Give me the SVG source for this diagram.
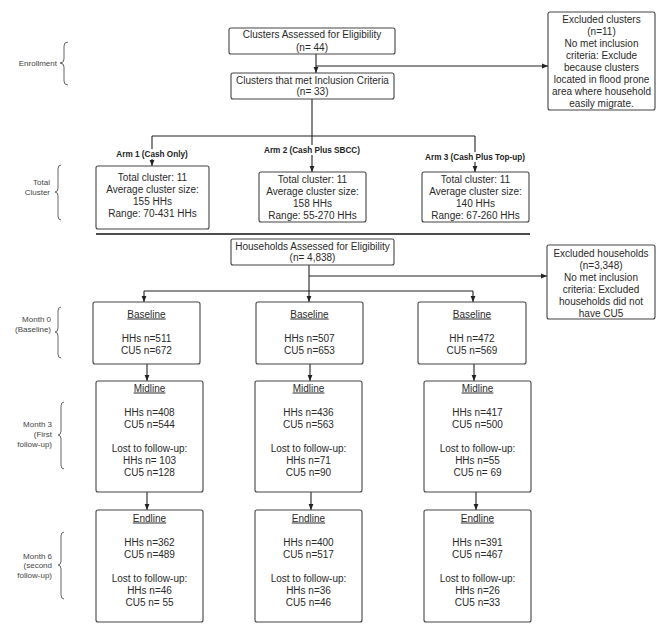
<svg xmlns="http://www.w3.org/2000/svg" width="666" height="629" viewBox="0 0 666 629">
<defs>
<marker id="ah" markerUnits="userSpaceOnUse" markerWidth="6" markerHeight="6" viewBox="0 0 6 6" refX="6" refY="3" orient="auto">
<path d="M0,0.6 L6,3 L0,5.4 Z" fill="#222"/>
</marker>
<style>
.box{fill:#fff;stroke:#444;stroke-width:1.1}
.t{font-family:"Liberation Sans",Arial,sans-serif;font-size:10px;fill:#2a2a2a;text-anchor:middle}
.u{text-decoration:underline}
.arm{font-family:"Liberation Sans",Arial,sans-serif;font-size:8.2px;font-weight:bold;fill:#222;text-anchor:middle}
.lab{font-family:"Liberation Sans",Arial,sans-serif;font-size:8px;fill:#444;text-anchor:end}
.ln{fill:none;stroke:#222;stroke-width:1.1}
.ar{fill:none;stroke:#222;stroke-width:1.1;marker-end:url(#ah)}
.br{fill:none;stroke:#555;stroke-width:0.9}
.sep{stroke:#111;stroke-width:1.6}
</style>
</defs>
<rect width="666" height="629" fill="#fff"/>

<g id="connectors">
<path class="ar" d="M316,54 V73"/>
<path class="ar" d="M316,66 H548"/>
<path class="ln" d="M312,99 V136"/>
<path class="ln" d="M152,136 H475"/>
<path class="ar" d="M152,136 V166"/>
<path class="ar" d="M312,136 V172"/>
<path class="ar" d="M475,136 V172"/>
<rect x="108" y="149" width="89" height="10" fill="#fff"/>
<rect x="259" y="145" width="106" height="10" fill="#fff"/>
<rect x="418" y="152" width="114" height="10" fill="#fff"/>
<text class="arm" x="152" y="157">Arm 1 (Cash Only)</text>
<text class="arm" x="312" y="153">Arm 2 (Cash Plus SBCC)</text>
<text class="arm" x="475" y="160">Arm 3 (Cash Plus Top-up)</text>
<path class="ar" d="M309,265 V302"/>
<path class="ar" d="M309,276 H547"/>
<path class="ln" d="M144,291 H473"/>
<path class="ar" d="M144,291 V302"/>
<path class="ar" d="M473,291 V302"/>
<path class="ar" d="M147,364 V381"/>
<path class="ar" d="M310,364 V381"/>
<path class="ar" d="M474,364 V381"/>
<path class="ar" d="M147,492 V510"/>
<path class="ar" d="M311,492 V510"/>
<path class="ar" d="M476,492 V510"/>
</g>

<line class="sep" x1="96" y1="234" x2="530" y2="234"/>

<g id="labels">
<text class="lab" x="57" y="66">Enrollment</text>
<path class="br" d="M68,42 Q64,42 64,46 V59 Q64,63 60,63 Q64,63 64,67 V81 Q64,85 68,85"/>
<text class="lab" x="50" y="185">Total</text>
<text class="lab" x="50" y="195">Cluster</text>
<path class="br" d="M61,165 Q58,165 58,169 V188 Q58,192 55,192 Q58,192 58,196 V216 Q58,220 61,220"/>
<text class="lab" x="51" y="322">Month 0</text>
<text class="lab" x="51" y="332">(Baseline)</text>
<path class="br" d="M61,307 Q58,307 58,311 V328 Q58,332 55,332 Q58,332 58,336 V354 Q58,358 61,358"/>
<text class="lab" x="52" y="427">Month 3</text>
<text class="lab" x="52" y="437">(First</text>
<text class="lab" x="52" y="447">follow-up)</text>
<path class="br" d="M64,402 Q61,402 61,406 V431 Q61,435 58,435 Q61,435 61,439 V465 Q61,469 64,469"/>
<text class="lab" x="52" y="559">Month 6</text>
<text class="lab" x="52" y="568">(second</text>
<text class="lab" x="52" y="578">follow-up)</text>
<path class="br" d="M64,532 Q61,532 61,536 V561 Q61,565 58,565 Q61,565 61,569 V595 Q61,599 64,599"/>
</g>

<g id="clusters-assessed">
<rect class="box" x="229" y="28" width="166" height="26" rx="2"/>
<text class="t" x="312" y="38">Clusters Assessed for Eligibility</text>
<text class="t" x="312" y="50.5">(n= 44)</text>
</g>
<g id="clusters-met">
<rect class="box" x="231" y="73" width="163" height="26" rx="2"/>
<text class="t" x="312.5" y="83.5">Clusters that met Inclusion Criteria</text>
<text class="t" x="312.5" y="95">(n= 33)</text>
</g>
<g id="excluded-clusters">
<rect class="box" x="548" y="12" width="107" height="98" rx="2"/>
<text class="t" x="601.5" y="22.8">Excluded clusters</text>
<text class="t" x="601.5" y="34.8">(n=11)</text>
<text class="t" x="601.5" y="46.8">No met inclusion</text>
<text class="t" x="601.5" y="58.8">criteria: Exclude</text>
<text class="t" x="601.5" y="70.8">because clusters</text>
<text class="t" x="601.5" y="82.8">located in flood prone</text>
<text class="t" x="601.5" y="94.8">area where household</text>
<text class="t" x="601.5" y="106.8">easily migrate.</text>
</g>

<g id="arm1">
<rect class="box" x="96" y="166" width="113" height="63" rx="2"/>
<text class="t" x="152.5" y="181">Total cluster: 11</text>
<text class="t" x="152.5" y="193">Average cluster size:</text>
<text class="t" x="152.5" y="205">155 HHs</text>
<text class="t" x="152.5" y="217">Range: 70-431 HHs</text>
</g>
<g id="arm2">
<rect class="box" x="259" y="172" width="107" height="50" rx="2"/>
<text class="t" x="312.5" y="182.5">Total cluster: 11</text>
<text class="t" x="312.5" y="194.5">Average cluster size:</text>
<text class="t" x="312.5" y="206.5">158 HHs</text>
<text class="t" x="312.5" y="218.5">Range: 55-270 HHs</text>
</g>
<g id="arm3">
<rect class="box" x="422" y="172" width="107" height="50" rx="2"/>
<text class="t" x="475.5" y="182.5">Total cluster: 11</text>
<text class="t" x="475.5" y="194.5">Average cluster size:</text>
<text class="t" x="475.5" y="206.5">140 HHs</text>
<text class="t" x="475.5" y="218.5">Range: 67-260 HHs</text>
</g>

<g id="households-assessed">
<rect class="box" x="231" y="239" width="163" height="26" rx="2"/>
<text class="t" x="312.5" y="249.5">Households Assessed for Eligibility</text>
<text class="t" x="312.5" y="261">(n= 4,838)</text>
</g>
<g id="excluded-households">
<rect class="box" x="547" y="245" width="108" height="74" rx="2"/>
<text class="t" x="601" y="256.5">Excluded households</text>
<text class="t" x="601" y="268.5">(n=3,348)</text>
<text class="t" x="601" y="280.5">No met inclusion</text>
<text class="t" x="601" y="292.5">criteria: Excluded</text>
<text class="t" x="601" y="304.5">households did not</text>
<text class="t" x="601" y="316.5">have CU5</text>
</g>

<g id="baseline1">
<rect class="box" x="93" y="302" width="107" height="62" rx="2"/>
<text class="t u" x="146.5" y="317.5">Baseline</text>
<text class="t" x="146.5" y="341.5">HHs n=511</text>
<text class="t" x="146.5" y="353.5">CU5 n=672</text>
</g>
<g id="baseline2">
<rect class="box" x="256" y="302" width="107" height="62" rx="2"/>
<text class="t u" x="309.5" y="317.5">Baseline</text>
<text class="t" x="309.5" y="341.5">HHs n=507</text>
<text class="t" x="309.5" y="353.5">CU5 n=653</text>
</g>
<g id="baseline3">
<rect class="box" x="418" y="302" width="108" height="62" rx="2"/>
<text class="t u" x="472" y="317.5">Baseline</text>
<text class="t" x="472" y="341.5">HH n=472</text>
<text class="t" x="472" y="353.5">CU5 n=569</text>
</g>

<g id="midline1">
<rect class="box" x="96" y="381" width="107" height="111" rx="2"/>
<text class="t u" x="149.5" y="391.5">Midline</text>
<text class="t" x="149.5" y="415.5">HHs n=408</text>
<text class="t" x="149.5" y="427.5">CU5 n=544</text>
<text class="t" x="149.5" y="451.5">Lost to follow-up:</text>
<text class="t" x="149.5" y="463.5">HHs n= 103</text>
<text class="t" x="149.5" y="475.5">CU5 n=128</text>
</g>
<g id="midline2">
<rect class="box" x="255" y="381" width="107" height="111" rx="2"/>
<text class="t u" x="308.5" y="391.5">Midline</text>
<text class="t" x="308.5" y="415.5">HHs n=436</text>
<text class="t" x="308.5" y="427.5">CU5 n=563</text>
<text class="t" x="308.5" y="451.5">Lost to follow-up:</text>
<text class="t" x="308.5" y="463.5">HHs n=71</text>
<text class="t" x="308.5" y="475.5">CU5 n=90</text>
</g>
<g id="midline3">
<rect class="box" x="424" y="381" width="107" height="111" rx="2"/>
<text class="t u" x="477.5" y="391.5">Midline</text>
<text class="t" x="477.5" y="415.5">HHs n=417</text>
<text class="t" x="477.5" y="427.5">CU5 n=500</text>
<text class="t" x="477.5" y="451.5">Lost to follow-up:</text>
<text class="t" x="477.5" y="463.5">HHs n=55</text>
<text class="t" x="477.5" y="475.5">CU5 n= 69</text>
</g>

<g id="endline1">
<rect class="box" x="96" y="510" width="107" height="112" rx="2"/>
<text class="t u" x="149.5" y="521.5">Endline</text>
<text class="t" x="149.5" y="545.5">HHs n=362</text>
<text class="t" x="149.5" y="557.5">CU5 n=489</text>
<text class="t" x="149.5" y="581.5">Lost to follow-up:</text>
<text class="t" x="149.5" y="593.5">HHs n=46</text>
<text class="t" x="149.5" y="605.5">CU5 n= 55</text>
</g>
<g id="endline2">
<rect class="box" x="255" y="510" width="107" height="112" rx="2"/>
<text class="t u" x="308.5" y="521.5">Endline</text>
<text class="t" x="308.5" y="545.5">HHs n=400</text>
<text class="t" x="308.5" y="557.5">CU5 n=517</text>
<text class="t" x="308.5" y="581.5">Lost to follow-up:</text>
<text class="t" x="308.5" y="593.5">HHs n=36</text>
<text class="t" x="308.5" y="605.5">CU5 n=46</text>
</g>
<g id="endline3">
<rect class="box" x="424" y="510" width="107" height="112" rx="2"/>
<text class="t u" x="477.5" y="521.5">Endline</text>
<text class="t" x="477.5" y="545.5">HHs n=391</text>
<text class="t" x="477.5" y="557.5">CU5 n=467</text>
<text class="t" x="477.5" y="581.5">Lost to follow-up:</text>
<text class="t" x="477.5" y="593.5">HHs n=26</text>
<text class="t" x="477.5" y="605.5">CU5 n=33</text>
</g>
</svg>
